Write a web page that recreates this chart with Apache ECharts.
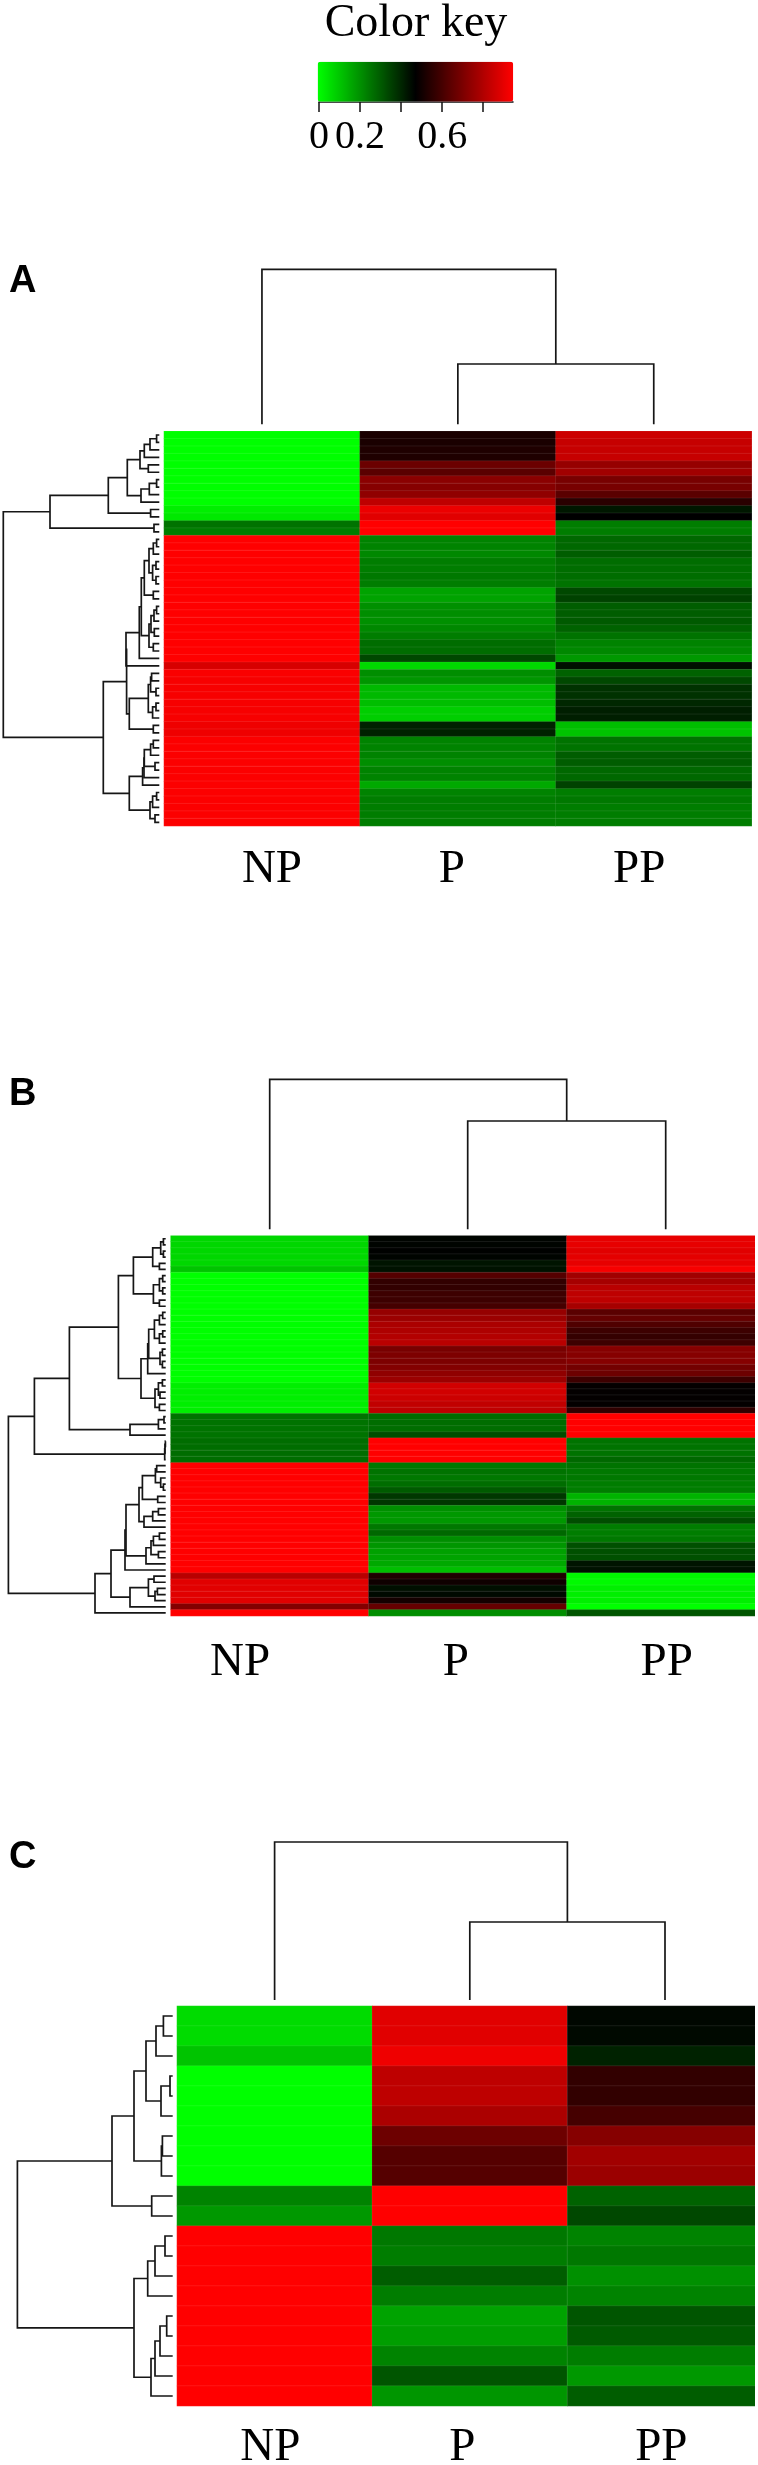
<!DOCTYPE html>
<html>
<head>
<meta charset="utf-8">
<style>html,body{margin:0;padding:0;background:#fff}#c{width:755px;height:2465px}</style>
<script src="https://cdn.jsdelivr.net/npm/echarts@6/dist/echarts.min.js"></script>
</head>
<body>
<div id="c"></div>
<script>
const columns = ['NP', 'P', 'PP'];
const keyTicks = [0, 0.2, 0.4, 0.6, 0.8];
const keyLabels = ['0', '0.2', '', '0.6', ''];
const keyMin = 0, keyMax = 0.945;

// Panel A, 53 rows
const aNP = [0,0,0,0,0,0,0,0,0,0,.03,.04,.26,.24,
 .945,.945,.945,.945,.945,.945,.945,.945,.945,.945,.945,.945,.945,.945,.945,.945,.945,
 .87,.935,.93,.93,.93,.93,.93,.93,.915,.915,
 .94,.94,.94,.94,.94,.94,.94,.94,.94,.94,.94,.94];
const aP = [.52,.52,.53,.53,.67,.64,.73,.72,.74,.825,.91,.89,.945,.945,
 .23,.23,.22,.24,.24,.25,.24,.17,.17,.205,.21,.205,.22,.24,.27,.27,.34,.075,
 .21,.195,.13,.13,.12,.09,.09,.41,.41,.23,.23,.23,.21,.23,.23,.16,.23,.24,.24,.24,.24];
const aPP = [.85,.84,.84,.84,.75,.77,.695,.695,.64,.55,.43,.4725,.24,.24,
 .28,.28,.30,.27,.27,.27,.26,.34,.35,.30,.30,.305,.29,.26,.23,.22,.19,.445,
 .29,.34,.38,.38,.40,.415,.415,.12,.11,.26,.26,.30,.30,.28,.28,.35,.24,.25,.24,.24,.24];
const aRowTree = [156,
 [109.3,
  [51,
   [32,
    [19.3,[15,[9.3,[2.7,0,1],2],3],[11,4,5]],
    [18.3,[10,[2.7,6,7],8],9]],
   [8.7,10,11]],
  [5.3,12,13]],
 [56,
  [32.7,
   [33.3,
    [20,
     [18,
      [15,[10.3,[6,[2.7,14,15],16],[6.7,[3.3,17,18],[3.3,19,20]]],[6,21,22]],
      [10.3,[8.3,[5.3,[2.7,23,24],25],[5,26,27]],[6,28,29]]],
     30],
    31],
   [30,[11,[8.7,[7.7,32,33],[3.3,34,35]],[6.7,[3.3,36,37],38]],[6,39,40]]],
  [30,
   [16.7,[15.3,[15,[8.7,[6,41,42],43],[4.3,44,45]],46],47],
   [9.3,[6.7,[2.7,48,49],50],[4.3,51,52]]]]];
const aColTree = [155, 0, [60.3, 1, 2]];

// Panel B, 62 rows
const bNP = [.075,.075,.075,.075,.075,.11,0,0,0,0,0,0,0,0,0,0,0,0,0,0,0,0,0,0,.03,.03,.03,.03,.03,
 .26,.26,.26,.26,.27,.27,.27,.27,
 .945,.945,.945,.945,.945,.945,.945,.945,.945,.945,.945,.945,.945,.945,.945,.945,.945,.945,
 .815,.89,.89,.89,.89,.715,.945];
const bP = [.465,.465,.47,.465,.435,.44,.63,.565,.565,.585,.585,.6,.75,.76,.79,.795,.805,.815,
 .695,.705,.705,.715,.74,.76,.86,.86,.85,.83,.825,
 .27,.27,.27,.33,.945,.945,.945,.945,
 .25,.26,.25,.27,.305,.37,.37,.205,.19,.19,.25,.28,.21,.195,.175,.17,.16,.12,
 .53,.5,.445,.455,.51,.66,.21];
const bPP = [.9,.9,.89,.895,.9,.93,.77,.78,.815,.825,.825,.78,.64,.66,.62,.585,.57,.585,
 .72,.72,.72,.685,.675,.585,.48,.48,.48,.48,.56,
 .945,.945,.945,.945,.26,.26,.26,.28,
 .26,.25,.25,.24,.24,.14,.14,.26,.29,.33,.24,.24,.25,.325,.325,.325,.435,.44,
 .01,.01,.03,.03,.03,0,.315];
const bRowTree = [157.3,
 [131.3,
  [96.3,
   [47.3,
    [32.3,
     [13,[5,[2.3,0,1],[2.3,2,3]],[6.3,4,5]],
     [12.3,[6.3,[3,6,7],[3,8,9]],[6.3,10,11]]],
    [24.7,
     [18,[17,[11.3,[6.3,[3,12,13],14],[6.3,[3,15,16],17]],[5.7,[3.3,18,19],[3.3,20,21]]],22],
     [10.7,[7.3,[3.3,23,24],[5.7,25,26]],[6.3,27,28]]]],
   [35.7,[7.3,[1.7,29,30],31],32]],
  [1,[.7,[.3,33,34],35],36]],
 [70.7,
  [54.7,
   [40.7,
    [39.7,
     [26.7,
      [23.3,[10.3,[9,37,38],[5,39,[2.3,40,41]]],[8,42,43]],
      [21.7,[13,[7.3,44,45],46],47]],
     [19.7,[14.7,[12.3,[6.3,48,49],50],[7.3,51,52]],53]],
    54],
   [35.7,[17.3,[11.7,55,56],[10.7,[8.3,57,58],59]],60]],
  61]];
const bColTree = [150, 0, [108.3, 1, 2]];

// Panel C, 20 rows
const cNP = [.065,.065,.11,0,0,0,0,0,0,.23,.19,.945,.945,.945,.945,.945,.945,.945,.945,.945];
const cP = [.89,.89,.915,.825,.825,.79,.675,.63,.63,.945,.945,.25,.24,.30,.24,.17,.18,.23,.315,.195];
const cPP = [.46,.455,.41,.565,.565,.6,.72,.77,.76,.29,.34,.23,.25,.205,.23,.315,.305,.24,.19,.30];
const cRowTree = [155.3,
 [60.7,
  [38.7,
   [26.7,[16.7,[9.3,0,1],2],[11.7,[2.7,3,4],5]],
   [11.3,[10.3,6,7],8]],
  [21,9,10]],
 [38.7,
  [25,[17.7,[7.7,11,12],13],14],
  [21.7,[17.7,[12.7,[6,15,16],17],18],19]]];
const cColTree = [158, 0, [78, 1, 2]];

const panels = [
 {name:'A', values:[aNP,aP,aPP], rowTree:aRowTree, colTree:aColTree,
  heat:{left:164,top:431.3,width:587.7,height:394.7},
  rowD:{left:3.3,width:156}, colD:{top:269.3,height:155},
  shifts:[10,-6,-14.6], labelMargin:20, letterTop:258},
 {name:'B', values:[bNP,bP,bPP], rowTree:bRowTree, colTree:bColTree,
  heat:{left:170.7,top:1235.7,width:594,height:380.3},
  rowD:{left:8.3,width:157.4}, colD:{top:1079.3,height:150},
  shifts:[-29.7,-12,1], labelMargin:23, letterTop:1071},
 {name:'C', values:[cNP,cP,cPP], rowTree:cRowTree, colTree:cColTree,
  heat:{left:177,top:2006,width:585.6,height:400},
  rowD:{left:17.3,width:155.4}, colD:{top:1842,height:158},
  shifts:[-4.3,-7.5,-3.7], labelMargin:18, letterTop:1834}
];

const serif = '"Liberation Serif","Times New Roman",serif';
const sans = '"Liberation Sans",Arial,sans-serif';
const lineColor = '#161616';
const lineW = 1.7;

// walk a merge tree: node = [height, childA, childB], leaf = index
function brackets(node, out) {
  if (typeof node === 'number') return {h:0, p:node};
  const a = brackets(node[1], out), b = brackets(node[2], out);
  out.push([node[0], a.p, a.h, b.p, b.h]);
  return {h:node[0], p:(a.p + b.p) / 2};
}

const renderRow = (params, api) => {
  const h = api.value(0), pa = api.value(1), ha = api.value(2), pb = api.value(3), hb = api.value(4);
  return {type:'polyline', silent:true,
    shape:{points:[api.coord([ha,pa]),api.coord([h,pa]),api.coord([h,pb]),api.coord([hb,pb])]},
    style:{fill:null,stroke:lineColor,lineWidth:lineW}};
};
const renderCol = (params, api) => {
  const h = api.value(0), pa = api.value(1), ha = api.value(2), pb = api.value(3), hb = api.value(4);
  return {type:'polyline', silent:true,
    shape:{points:[api.coord([pa,ha]),api.coord([pa,h]),api.coord([pb,h]),api.coord([pb,hb])]},
    style:{fill:null,stroke:lineColor,lineWidth:lineW}};
};

const grid = [{left:319,top:62,width:194,height:40,outerBoundsMode:'none'}];
const xAxis = [{gridIndex:0,type:'value',min:keyMin,max:keyMax,interval:0.2,
  axisLine:{show:true,lineStyle:{color:'#111',width:1.5}},
  axisTick:{show:true,length:10,lineStyle:{color:'#111',width:1.5}},
  splitLine:{show:false},
  axisLabel:{show:true,margin:15,color:'#000',fontFamily:serif,fontSize:40,showMaxLabel:false,
    formatter:v=>{const i=keyTicks.findIndex(t=>Math.abs(t-v)<1e-6);return i<0?'':keyLabels[i];}}}];
const yAxis = [{gridIndex:0,type:'value',min:0,max:1,show:false}];
const series = [];
const titles = [{text:'Color key',left:411,top:-4,textAlign:'center',
  textStyle:{fontFamily:serif,fontSize:46,fontWeight:'normal',color:'#000'}}];
const heatSeries = [];

panels.forEach(p => {
  const n = p.values[0].length;
  // heatmap
  const gh = grid.length;
  grid.push(Object.assign({outerBoundsMode:'none'},p.heat));
  xAxis.push({gridIndex:gh,type:'category',
    data:columns.map((c,i)=>({value:c,textStyle:{padding:p.shifts[i]>0?[0,0,0,2*p.shifts[i]]:[0,-2*p.shifts[i],0,0]}})),
    axisLine:{show:false},axisTick:{show:false},splitLine:{show:false},
    axisLabel:{margin:p.labelMargin,color:'#000',fontFamily:serif,fontSize:47,interval:0,hideOverlap:false}});
  yAxis.push({gridIndex:gh,type:'category',inverse:true,show:false,
    data:p.values[0].map((_,i)=>'r'+i)});
  const cells = [];
  p.values.forEach((col,c)=>col.forEach((v,r)=>cells.push([c,r,v])));
  heatSeries.push(series.length);
  series.push({type:'heatmap',xAxisIndex:gh,yAxisIndex:gh,data:cells,silent:true,progressive:0,
    itemStyle:{borderColor:'rgba(255,255,255,0.14)',borderWidth:0.6},
    emphasis:{disabled:true}});
  // row dendrogram
  const gr = grid.length;
  grid.push({left:p.rowD.left,width:p.rowD.width,top:p.heat.top,height:p.heat.height,outerBoundsMode:'none'});
  xAxis.push({gridIndex:gr,type:'value',inverse:true,min:0,max:p.rowD.width,show:false});
  yAxis.push({gridIndex:gr,type:'value',inverse:true,min:-0.5,max:n-0.5,show:false});
  const rowOut = []; brackets(p.rowTree,rowOut);
  series.push({type:'custom',xAxisIndex:gr,yAxisIndex:gr,data:rowOut,silent:true,clip:false,
    encode:{x:[0],y:[1]},renderItem:renderRow});
  // column dendrogram
  const gc = grid.length;
  grid.push({left:p.heat.left,width:p.heat.width,top:p.colD.top,height:p.colD.height,outerBoundsMode:'none'});
  xAxis.push({gridIndex:gc,type:'value',min:-0.5,max:2.5,show:false});
  yAxis.push({gridIndex:gc,type:'value',min:0,max:p.colD.height,show:false});
  const colOut = []; brackets(p.colTree,colOut);
  series.push({type:'custom',xAxisIndex:gc,yAxisIndex:gc,data:colOut,silent:true,clip:false,
    encode:{x:[1],y:[0]},renderItem:renderCol});
  titles.push({text:p.name,left:4,top:p.letterTop,
    textStyle:{fontFamily:sans,fontSize:38,fontWeight:'bold',color:'#000'}});
});

const chart = echarts.init(document.getElementById('c'),null,{renderer:'canvas'});
chart.setOption({
  animation:false,
  backgroundColor:'#fff',
  title:titles,
  tooltip:{show:false},
  grid:grid,xAxis:xAxis,yAxis:yAxis,
  visualMap:{type:'continuous',seriesIndex:heatSeries,dimension:2,min:keyMin,max:keyMax,
    orient:'horizontal',left:317.7,top:61.7,itemWidth:40,itemHeight:195.5,padding:0,
    calculable:false,realtime:false,hoverLink:false,text:null,showLabel:false,
    inRange:{color:['#00ff00','#000000','#ff0000']},textStyle:{fontSize:0}},
  series:series
});
</script>
</body>
</html>
